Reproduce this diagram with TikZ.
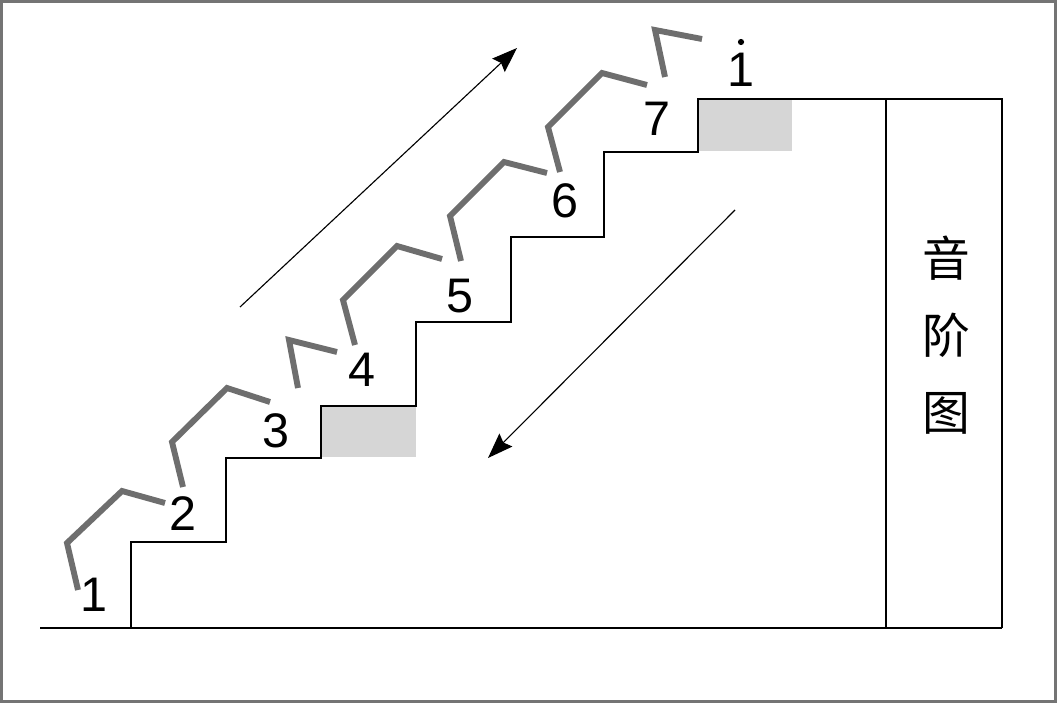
\documentclass[tikz,border=0pt]{standalone}
\usepackage{fontspec}
\setmainfont{Liberation Sans}
\newfontfamily\cjk{Noto Sans CJK SC}
\usetikzlibrary{arrows.meta}
\definecolor{ink}{HTML}{000000}
\definecolor{frame}{HTML}{747474}
\definecolor{stepgray}{HTML}{6E6E6E}
\definecolor{shade}{HTML}{D6D6D6}
\tikzset{
  stair/.style={draw=ink, line width=0.9pt},
  zig/.style={draw=stepgray, line width=4.2pt, line cap=butt, line join=miter},
  hl/.style={fill=shade, draw=none},
  num/.style={font=\fontsize{34.5pt}{40pt}\selectfont, text=ink, inner sep=0pt},
  arr/.style={-{Stealth[length=18pt,width=13pt,inset=2.5pt]}, line width=0.8pt, color=ink},
  colname/.style={font=\cjk\fontsize{34pt}{54.5pt}\selectfont, align=center, inner sep=0pt, text=ink},
}

\begin{document}
\begin{tikzpicture}[x=0.025cm, y=-0.025cm]
    \useasboundingbox (0,0) rectangle (1057,703);
    \draw[frame, line width=1.8pt] (1.3,1.3) rectangle (1055.7,701.7);
    % 半音の段
    \fill[hl] (321,406) rectangle (416,457);
    \fill[hl] (698,99) rectangle (792,151);
    \draw[stair] (40,628) -- (1002,628);
    \draw[stair] (131,628) |- (226,542) |- (321,458) |- (416,406) |- (511,322)
      |- (604,237) |- (698,152) |- (1002,99) -- (1002,628);
    \draw[stair] (886,99) -- (886,628);
    \draw[zig] (78,590) -- (67,543) -- (122,491) -- (165,503);
    \draw[zig] (183,487) -- (172,442) -- (227,388) -- (270,402);
    \draw[zig] (298,388) -- (289,340) -- (337,352);
    \draw[zig] (355,345) -- (343,300) -- (397,246) -- (442,259);
    \draw[zig] (461,261) -- (450,216) -- (504,162) -- (547,173);
    \draw[zig] (560,172) -- (548,127) -- (602,73) -- (647,85);
    \draw[zig] (665,77) -- (655,30) -- (702,39);
    \node[num] (n1) at (94,595) {1};
    \node[num] (n2) at (183,514) {2};
    \node[num] (n3) at (276,431) {3};
    \node[num] (n4) at (362,370) {4};
    \node[num] (n5) at (460,296) {5};
    \node[num] (n6) at (565,201) {6};
    \node[num] (n7) at (657,119) {7};
    \node[num] (n8) at (741,70) {1};
    \fill[ink] (n8.center) ++(0,-28) circle (2.2pt);
    \coordinate (up1) at (240,307);
    \coordinate (up2) at (517,48);
    \coordinate (dn1) at (735,210);
    \coordinate (dn2) at (488,458);
    \draw[arr] (up1) -- (up2);
    \draw[arr] (dn1) -- (dn2);
    \node[colname] (title) at (946,335) {音\\阶\\图};
  \end{tikzpicture}
\end{document}
